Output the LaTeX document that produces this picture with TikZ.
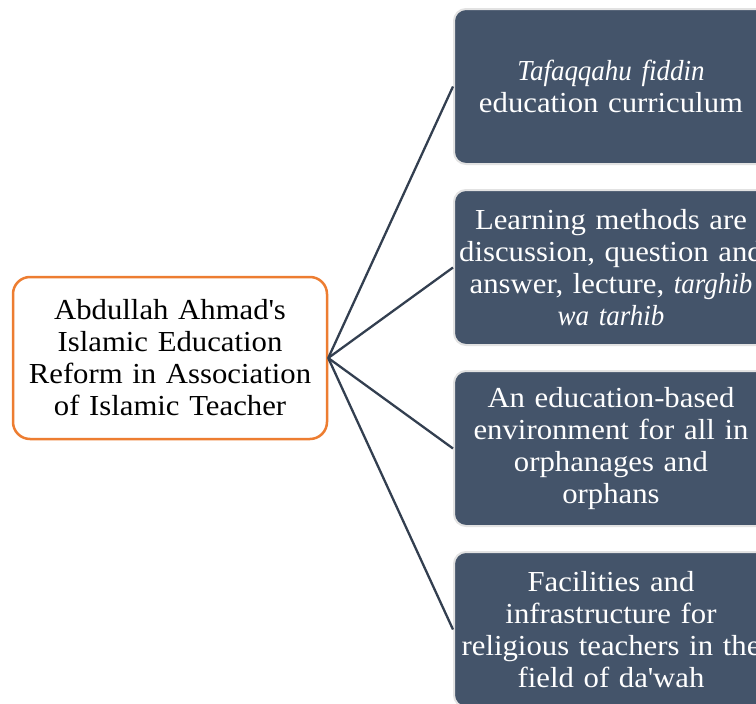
\documentclass[tikz,border=0pt]{standalone}
\usepackage{fontspec}
\setmainfont{Liberation Serif}[UprightFeatures={FakeStretch=1.06}, ItalicFeatures={FakeStretch=0.93}]
\definecolor{rootedge}{HTML}{ED7D31}
\definecolor{leaffill}{HTML}{44546A}
\definecolor{leafedge}{HTML}{E2E2E2}
\definecolor{linkcol}{HTML}{333F50}
\newcommand{\apos}{\textquotesingle}
\tikzset{
  rootbox/.style={draw=rootedge, line width=2.5pt, fill=white, rounded corners=17pt,
    minimum width=314pt, minimum height=162pt, align=center, inner sep=0pt,
    text width=300pt, font=\fontsize{29}{32}\selectfont},
  leafbox/.style={draw=leafedge, line width=2pt, fill=leaffill, rounded corners=12pt,
    minimum width=314pt, minimum height=155pt, align=center, inner sep=0pt,
    text width=310pt, text=white, font=\fontsize{29}{32}\selectfont},
  link/.style={draw=linkcol, line width=2.3pt}
}
\begin{document}
\begin{tikzpicture}[x=1pt,y=-1pt]
\useasboundingbox (0,0) rectangle (756,704);
\clip (0,0) rectangle (756,704);
\node[rootbox] (root) at (170,358) {Abdullah Ahmad\apos s\\Islamic Education\\Reform in Association\\of Islamic Teacher};
\node[leafbox] (b1) at (611,86.5) {\textit{Tafaqqahu fiddin}\\education curriculum};
\node[leafbox] (b2) at (611,267.5) {Learning methods are\\discussion, question and\\answer, lecture, \textit{targhib}\\\textit{wa tarhib}};
\node[leafbox] (b3) at (611,448.5) {An education-based\\environment for all in\\orphanages and\\orphans};
\node[leafbox] (b4) at (611,629.5) {Facilities and\\infrastructure for\\religious teachers in the\\field of da\apos wah};
\foreach \b in {b1,b2,b3,b4}
  \draw[link] (root.east) -- (\b.west);
\end{tikzpicture}
\end{document}
